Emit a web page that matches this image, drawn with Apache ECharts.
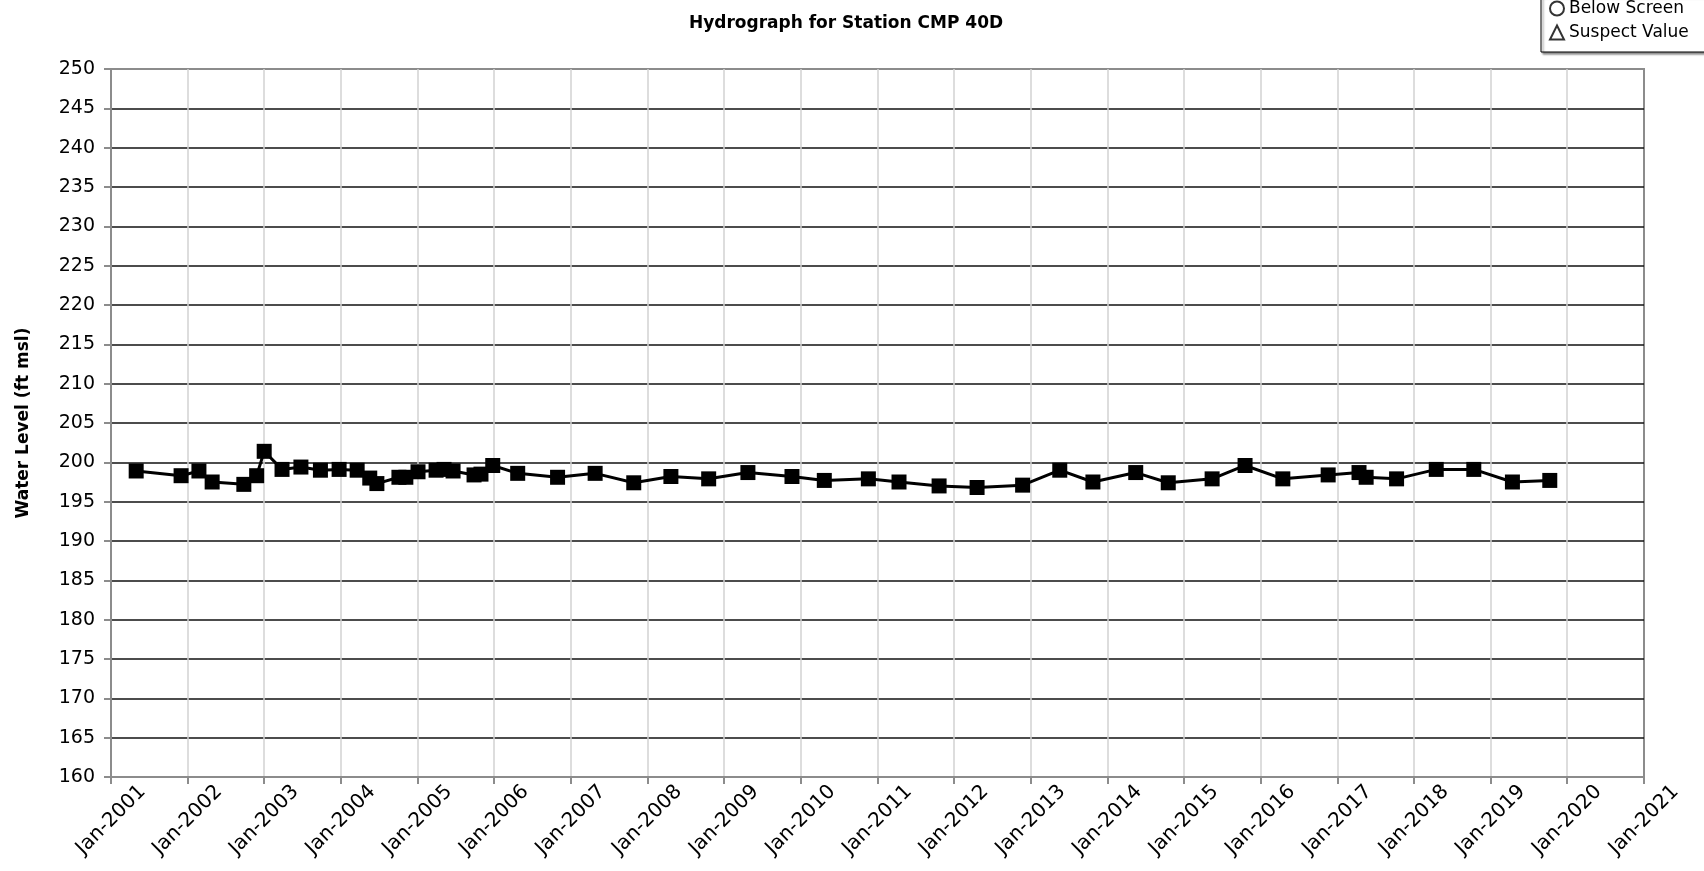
<!DOCTYPE html>
<html>
<head>
<meta charset="utf-8">
<title>Hydrograph for Station CMP 40D</title>
<script src="https://cdn.jsdelivr.net/npm/echarts@6/dist/echarts.min.js"></script>
<style>
  html, body { margin: 0; padding: 0; background: #fff; }
  #chart { width: 1704px; height: 871px; }
</style>
</head>
<body>
<div id="chart"></div>
<script>
// Measurement dates for station CMP 40D
const sampleDates = [
  '2001-05-01', '2001-12-01', '2002-02-24', '2002-04-28', '2002-09-26', '2002-11-26',
  '2003-01-01', '2003-03-27', '2003-06-25', '2003-09-26', '2003-12-24', '2004-03-19',
  '2004-05-18', '2004-06-21', '2004-10-04', '2004-11-06', '2005-01-03', '2005-03-30',
  '2005-05-07', '2005-06-19', '2005-09-27', '2005-10-30', '2005-12-25', '2006-04-23',
  '2006-10-30', '2007-04-27', '2007-10-28', '2008-04-22', '2008-10-19', '2009-04-24',
  '2009-11-20', '2010-04-23', '2010-11-19', '2011-04-14', '2011-10-22', '2012-04-20',
  '2012-11-23', '2013-05-19', '2013-10-24', '2014-05-16', '2014-10-18', '2015-05-15',
  '2015-10-19', '2016-04-16', '2016-11-18', '2017-04-14', '2017-05-18', '2017-10-10',
  '2018-04-17', '2018-10-13', '2019-04-15', '2019-10-10'
];

// Water level (ft msl) at each date
const waterLevels = [
  198.9, 198.3, 198.9, 197.5, 197.2, 198.3,
  201.4, 199.1, 199.4, 199.0, 199.1, 199.0,
  198.0, 197.3, 198.1, 198.1, 198.8, 199.0,
  199.1, 198.9, 198.4, 198.5, 199.6, 198.6,
  198.1, 198.6, 197.4, 198.2, 197.9, 198.7,
  198.2, 197.7, 197.9, 197.5, 197.0, 196.8,
  197.1, 199.0, 197.5, 198.7, 197.4, 197.9,
  199.6, 197.9, 198.4, 198.7, 198.1, 197.9,
  199.1, 199.1, 197.5, 197.7
];

// Axis ranges
const dateRange = ['2001-01-01', '2021-01-01'];
const levelRange = [160, 250];
const levelStep = 5;

// Flag categories shown in the key (no flagged readings at this station)
const flagNames = ['Below Screen', 'Suspect Value'];
const flagIcons = ['circle', 'triangle'];

const MONTHS = ['Jan','Feb','Mar','Apr','May','Jun','Jul','Aug','Sep','Oct','Nov','Dec'];
const FONT = 'DejaVu Sans';

const chart = echarts.init(document.getElementById('chart'), null, { renderer: 'canvas' });

const levelSeries = sampleDates.map((d, i) => [d, waterLevels[i]]);

const option = {
  backgroundColor: '#ffffff',
  animation: false,
  title: {
    text: 'Hydrograph for Station CMP 40D',
    left: 841,
    textAlign: 'center',
    top: 10,
    textStyle: { fontFamily: FONT, fontSize: 17, fontWeight: 'bold', color: '#000' }
  },
  legend: {
    orient: 'vertical',
    left: 1541,
    top: -4,
    padding: [4, 30, 11, 8],
    itemGap: 7,
    itemWidth: 14,
    itemHeight: 14,
    itemTextGap: 5,
    backgroundColor: '#fff',
    borderColor: '#000',
    borderWidth: 1,
    borderRadius: 0,
    shadowColor: 'rgba(0,0,0,0.45)',
    shadowBlur: 2,
    shadowOffsetX: 2,
    shadowOffsetY: 2,
    selectedMode: false,
    textStyle: { fontFamily: FONT, fontSize: 17, color: '#000' },
    data: flagNames.map((n, i) => ({ name: n, icon: flagIcons[i] }))
  },
  grid: {
    left: 111,
    right: 60,
    top: 69,
    bottom: 94,
    show: true,
    borderColor: '#8c8c8c',
    borderWidth: 2,
    backgroundColor: 'transparent'
  },
  xAxis: {
    type: 'time',
    min: dateRange[0],
    max: dateRange[1],
    minInterval: 365 * 86400000,
    maxInterval: 366 * 86400000,
    axisLine: { show: true, lineStyle: { color: '#8c8c8c', width: 2 } },
    axisTick: { show: true, inside: false, length: 7, lineStyle: { color: '#8c8c8c', width: 2 } },
    splitLine: {
      show: true,
      showMinLine: false,
      showMaxLine: false,
      lineStyle: { color: '#d2d2d2', width: 1.5 }
    },
    axisLabel: {
      rotate: 45,
      align: 'center',
      verticalAlign: 'middle',
      margin: 43,
      fontFamily: FONT,
      fontSize: 20,
      color: '#000',
      showMinLabel: true,
      showMaxLabel: true,
      hideOverlap: false,
      formatter: function (value) {
        const d = new Date(value);
        return MONTHS[d.getMonth()] + '-' + d.getFullYear();
      }
    }
  },
  yAxis: {
    type: 'value',
    min: levelRange[0],
    max: levelRange[1],
    interval: levelStep,
    name: 'Water Level (ft msl)',
    nameLocation: 'middle',
    nameRotate: 90,
    nameGap: 79,
    nameTextStyle: { fontFamily: FONT, fontSize: 17, fontWeight: 'bold', color: '#000' },
    axisLine: { show: true, lineStyle: { color: '#8c8c8c', width: 2 } },
    axisTick: { show: true, inside: false, length: 7, lineStyle: { color: '#8c8c8c', width: 2 } },
    splitLine: {
      show: true,
      showMinLine: false,
      showMaxLine: false,
      lineStyle: { color: '#111', width: 1.5 }
    },
    axisLabel: {
      margin: 16,
      fontFamily: FONT,
      fontSize: 19,
      color: '#000'
    }
  },
  series: [
    {
      name: 'Water Level',
      type: 'line',
      data: levelSeries,
      symbol: 'rect',
      symbolSize: 15,
      showAllSymbol: true,
      lineStyle: { color: '#000', width: 3 },
      itemStyle: { color: '#000' },
      z: 5
    },
    {
      name: flagNames[0],
      type: 'scatter',
      data: [],
      symbol: 'circle',
      itemStyle: { color: '#fff', borderColor: '#000', borderWidth: 1.2 }
    },
    {
      name: flagNames[1],
      type: 'scatter',
      data: [],
      symbol: 'triangle',
      itemStyle: { color: '#fff', borderColor: '#000', borderWidth: 1.2 }
    }
  ]
};

chart.setOption(option);
</script>
</body>
</html>
